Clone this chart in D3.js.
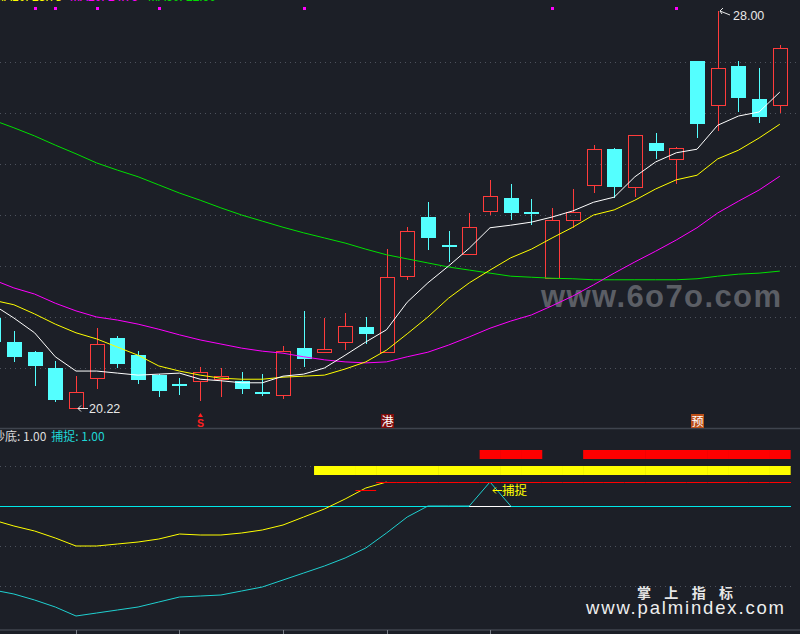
<!DOCTYPE html>
<html><head><meta charset="utf-8">
<script src="https://cdn.jsdelivr.net/npm/d3@7/dist/d3.min.js"></script>
<style>html,body{margin:0;padding:0;background:#1c1f27;}svg{display:block}</style>
</head><body><svg id="c" width="800" height="634"></svg>
<script>
// ---------- DATA ----------
const barIndex = [1,2,3,4,5,6,7,8,9,10,11,12,13,14,15,16,17,18,19,20,21,22,23,24,25,26,27,28,29,30,31,32,33,34,35,36,37,38,39];
const opens  = [21.98,21.51,21.31,21.00,20.22,20.80,21.59,21.25,20.86,20.69,20.75,20.78,20.75,20.53,20.47,21.39,21.31,21.51,21.80,21.31,22.80,23.96,23.41,23.24,24.08,24.33,24.06,22.76,23.90,24.59,25.29,24.55,25.41,25.10,27.02,26.16,26.92,26.27,26.16];
const highs  = [22.14,21.73,21.33,21.14,20.84,21.78,21.63,21.33,20.88,20.80,21.02,21.00,20.92,20.88,21.43,22.12,21.98,22.08,22.00,23.33,23.76,24.25,23.69,24.04,24.69,24.61,24.31,24.14,24.51,25.37,25.31,25.57,25.61,25.33,27.02,28.00,27.02,26.88,27.33];
const lows   = [21.35,21.12,20.65,20.33,20.22,20.59,21.00,20.69,20.43,20.47,20.35,20.43,20.49,20.45,20.39,21.02,21.31,21.35,21.47,21.31,22.73,23.31,23.08,23.24,24.00,23.90,23.80,22.76,23.75,24.43,24.33,24.35,25.10,24.61,25.51,25.65,26.02,25.80,26.00];
const closes = [21.51,21.22,21.04,20.37,20.53,21.47,21.08,20.76,20.55,20.65,20.92,20.84,20.59,20.51,21.33,21.18,21.37,21.82,21.67,22.78,23.69,23.55,23.37,23.76,24.37,24.04,24.02,23.90,24.06,25.29,24.55,25.57,25.25,25.31,25.78,26.88,26.29,25.92,27.27];

const ma5  = [22.24,21.98,21.69,21.22,20.94,20.94,20.90,20.86,20.88,20.90,20.78,20.75,20.71,20.71,20.84,20.88,21.00,21.25,21.51,21.75,22.29,22.67,23.00,23.35,23.75,23.80,23.86,23.96,24.08,24.25,24.35,24.75,25.04,25.22,25.29,25.76,25.94,26.02,26.41];
const ma10 = [22.33,22.24,22.06,21.86,21.69,21.57,21.41,21.25,21.04,20.94,20.86,20.80,20.78,20.78,20.82,20.84,20.86,20.98,21.12,21.35,21.67,22.00,22.37,22.67,22.92,23.16,23.33,23.55,23.76,24.00,24.10,24.29,24.51,24.69,24.78,25.10,25.27,25.51,25.78];
const ma20 = [22.73,22.57,22.45,22.27,22.12,22.00,21.94,21.86,21.76,21.65,21.55,21.47,21.39,21.33,21.29,21.22,21.16,21.12,21.10,21.12,21.22,21.31,21.45,21.61,21.78,21.92,22.04,22.22,22.41,22.63,22.86,23.08,23.29,23.51,23.75,24.04,24.27,24.49,24.76];
const ma60 = [25.86,25.71,25.55,25.37,25.20,25.02,24.88,24.75,24.59,24.43,24.29,24.14,24.00,23.88,23.76,23.65,23.55,23.45,23.33,23.22,23.14,23.06,22.98,22.92,22.86,22.80,22.78,22.76,22.75,22.73,22.73,22.73,22.73,22.73,22.75,22.80,22.84,22.86,22.90];
const priceGrid = [21,22,23,24,25,26,27];

// sub panel (抄底 / 捕捉)
const chaodi = [13,10,7.5,4,0,0,1,2,3.5,6,5.5,5.5,6.5,8,10.5,14.5,18.5,23.5,29,32];           // bars 1..20
const buzhuo = [-22,-24,-27,-30.5,-35,-33.5,-32,-30.5,-28,-25.5,-25,-24.5,-22.5,-20.5,-17,-13.5,-10,-6,-1,6.5,14.5,20,20,20,32,20]; // bars 1..26
const redStepBars = [19,20,21,22,23,24,25,26,27,28,29,30,31,32,33,34,35,36,37,38,39];
const redStepVals = [28,32,32,32,32,32,32,32,32,32,32,32,32,32,32,32,32,32,32,32,32];
const yellowStickBars = [17,18,19,20,21,22,23,24,25,26,27,28,29,30,31,32,33,34,35,36,37,38,39];
const redStickBars = [25,26,27,30,31,32,33,34,35,36,37,38,39];
const subLevel = 20;
const subGrid = [-20,0,20,40];
const markerBars = [3,4,6,9,16,28,34];
const tickBars = [5,10,15,20,25];
const signals = [{bar:11, label:"S"}, {bar:20, label:"港"}, {bar:35, label:"预"}];
const lowLabel = {bar:5, value:20.22, text:"20.22"};
const highLabel = {bar:36, value:28.00, text:"28.00"};
const legendTexts = ["MA10: 25.78","MA20: 24.76","MA60: 22.90"];

// ---------- SCALES ----------
const W = 800, H = 634;
const x = d3.scaleLinear().domain([1,39]).range([-6.8, 779.8]);
const y = d3.scaleLinear().domain([20,28]).range([419,11]);
const ys = d3.scaleLinear().domain([-20,40]).range([586,466]);
const half = (x(2)-x(1))/2;

const svg = d3.select("#c");
svg.append("rect").attr("width",W).attr("height",H).attr("fill","#1c1f27");

const NUM = "'Liberation Sans', Arial, sans-serif";
const CJK = "'Noto Sans CJK SC', sans-serif";

// watermark
svg.append("text").attr("x",541).attr("y",307).attr("textLength",240).attr("lengthAdjust","spacing")
  .attr("font-family",NUM).attr("font-weight","bold").attr("font-size",31).attr("fill","#5b5e65")
  .text("www.6o7o.com");

// grid
svg.append("g").selectAll("line").data(priceGrid).join("line")
  .attr("x1",0).attr("x2",W).attr("y1",d=>Math.round(y(d))+0.5).attr("y2",d=>Math.round(y(d))+0.5)
  .attr("stroke","#4d525d").attr("stroke-dasharray","1,4");
svg.append("g").selectAll("line").data(subGrid).join("line")
  .attr("x1",0).attr("x2",795).attr("y1",d=>Math.round(ys(d))+0.5).attr("y2",d=>Math.round(ys(d))+0.5)
  .attr("stroke","#4d525d").attr("stroke-dasharray","1,4");

// panel borders
svg.append("line").attr("x1",0).attr("x2",W).attr("y1",428.5).attr("y2",428.5).attr("stroke","#3f444e").attr("stroke-width",1.5);
svg.append("line").attr("x1",0).attr("x2",W).attr("y1",630).attr("y2",630).attr("stroke","#3f444e").attr("stroke-width",1.5);
svg.append("g").selectAll("line").data(tickBars).join("line")
  .attr("x1",d=>Math.round(x(d))+0.5).attr("x2",d=>Math.round(x(d))+0.5).attr("y1",630).attr("y2",634)
  .attr("stroke","#7a7f88");

// candles
const candles = svg.append("g");
barIndex.forEach((b,i)=>{
  const cx = Math.round(x(b));
  const o = opens[i], c = closes[i], h = highs[i], l = lows[i];
  const up = c >= o;
  const top = Math.round(y(Math.max(o,c))), bot = Math.round(y(Math.min(o,c)));
  const hy = Math.round(y(h)), ly = Math.round(y(l));
  if (up) {
    const col = "#ff3b3b";
    if (hy < top) candles.append("line").attr("x1",cx+0.5).attr("x2",cx+0.5).attr("y1",hy).attr("y2",top).attr("stroke",col);
    if (ly > bot) candles.append("line").attr("x1",cx+0.5).attr("x2",cx+0.5).attr("y1",bot).attr("y2",ly).attr("stroke",col);
    candles.append("rect").attr("x",cx-7+0.5).attr("y",top+0.5).attr("width",14).attr("height",Math.max(1,bot-top))
      .attr("fill","none").attr("stroke",col);
  } else {
    const col = "#54ffff";
    candles.append("line").attr("x1",cx+0.5).attr("x2",cx+0.5).attr("y1",hy).attr("y2",ly).attr("stroke",col);
    candles.append("rect").attr("x",cx-7).attr("y",top).attr("width",15).attr("height",Math.max(2,bot-top)).attr("fill",col);
  }
});

// moving averages
const mline = d3.line().x((d,i)=>x(barIndex[i])).y(d=>y(d));
[[ma60,"#00e000"],[ma20,"#ff00ff"],[ma10,"#ffff00"],[ma5,"#ffffff"]].forEach(([arr,col])=>{
  svg.append("path").attr("d",mline(arr)).attr("fill","none").attr("stroke",col).attr("stroke-width",1);
});

// markers at top
svg.append("g").selectAll("rect").data(markerBars).join("rect")
  .attr("x",d=>Math.round(x(d))-1).attr("y",7).attr("width",3).attr("height",3).attr("fill","#ff00ff");

// cut-off legend at top (only its bottom edge is inside the picture)
[[legendTexts[0],"#ffff00",-6],[legendTexts[1],"#ff00ff",70],[legendTexts[2],"#00e000",148]].forEach(([t,c,xx])=>{
  svg.append("text").attr("x",xx).attr("y",0.8).attr("font-family",NUM).attr("font-size",12).attr("fill",c).text(t);
});

// high / low labels
{
  const lx = Math.round(x(lowLabel.bar)), ly = Math.round(y(lowLabel.value));
  svg.append("path").attr("d",`M${lx+12},${ly+0.5}H${lx+2}M${lx+5},${ly-2.5}L${lx+2},${ly+0.5}L${lx+5},${ly+3.5}`)
    .attr("stroke","#e8e8e8").attr("fill","none");
  svg.append("text").attr("x",lx+13).attr("y",ly+5).attr("font-family",NUM).attr("font-size",12.5).attr("fill","#e8e8e8").text(lowLabel.text);
  const hx = Math.round(x(highLabel.bar)), hy = Math.round(y(highLabel.value));
  svg.append("path").attr("d",`M${hx+12},${hy+4}L${hx+2},${hy}M${hx+5},${hy-3}L${hx+2},${hy}L${hx+4},${hy+3}`)
    .attr("stroke","#e8e8e8").attr("fill","none");
  svg.append("text").attr("x",hx+15).attr("y",hy+9).attr("font-family",NUM).attr("font-size",12.5).attr("fill","#e8e8e8").text(highLabel.text);
}

// signals under main chart
signals.forEach(s=>{
  const cx = Math.round(x(s.bar))+0.5;
  if (s.label === "S") {
    svg.append("path").attr("d",`M${cx},413L${cx-2.5},417L${cx+2.5},417Z`).attr("fill","#ff2020");
    svg.append("text").attr("x",cx).attr("y",427).attr("text-anchor","middle").attr("font-family",NUM)
      .attr("font-weight","bold").attr("font-size",10.5).attr("fill","#ff2020").text("S");
  } else {
    svg.append("rect").attr("x",cx-6.5).attr("y",414).attr("width",13).attr("height",14)
      .attr("fill", s.label==="港" ? "#7e0d0d" : "#bb4f19");
    svg.append("text").attr("x",cx).attr("y",426).attr("text-anchor","middle").attr("font-family",CJK)
      .attr("font-size",12).attr("fill","#ffffff").text(s.label);
  }
});

// ---------- sub panel ----------
svg.append("g").selectAll("rect").data(redStickBars).join("rect")
  .attr("x",d=>x(d)-half).attr("width",half*2+0.5).attr("y",ys(48)).attr("height",ys(43.5)-ys(48)).attr("fill","#ff0000");
svg.append("g").selectAll("rect").data(yellowStickBars).join("rect")
  .attr("x",d=>x(d)-half).attr("width",half*2+0.5).attr("y",ys(40)).attr("height",ys(35.5)-ys(40)).attr("fill","#ffff00");

svg.append("line").attr("x1",0).attr("x2",791).attr("y1",Math.round(ys(subLevel))+0.5).attr("y2",Math.round(ys(subLevel))+0.5)
  .attr("stroke","#00e8e8");

const sline = d3.line().x((d,i)=>x(barIndex[i])).y(d=>ys(d));
svg.append("path").attr("d",sline(chaodi)).attr("fill","none").attr("stroke","#ffff00");
svg.append("path").attr("d",sline(buzhuo)).attr("fill","none").attr("stroke","#1fd0d0");
// triangle base
svg.append("line").attr("x1",x(24)).attr("x2",x(26)).attr("y1",Math.round(ys(subLevel))+0.5).attr("y2",Math.round(ys(subLevel))+0.5).attr("stroke","#ffffff");

// red step segments
redStepBars.forEach((b,i)=>{
  const x1 = x(b)-half, x2 = (i===redStepBars.length-1) ? 791 : x(b)+half;
  const yy = Math.round(ys(redStepVals[i]))+0.5;
  svg.append("line").attr("x1",x1).attr("x2",x2).attr("y1",yy).attr("y2",yy).attr("stroke","#ff0000");
});

// 捕捉 label
{
  const bx = Math.round(x(25)), by = Math.round(ys(32));
  svg.append("path").attr("d",`M${bx+12},${by+8.5}H${bx+3}M${bx+6},${by+5.5}L${bx+3},${by+8.5}L${bx+6},${by+11.5}`)
    .attr("stroke","#ffff00").attr("fill","none");
  svg.append("text").attr("x",bx+12).attr("y",by+13).attr("font-family",CJK).attr("font-size",12.5).attr("fill","#ffff00").text("捕捉");
}

// sub panel title
const t = svg.append("text").attr("x",-7).attr("y",441).attr("font-family",CJK).attr("font-size",12);
t.append("tspan").attr("fill","#dcdcdc").text("抄底: 1.00");
t.append("tspan").attr("fill","#1fd6d6").attr("dx",5).text("捕捉: 1.00");

// bottom watermark
svg.append("text").attr("x",637).attr("y",598).attr("textLength",96).attr("lengthAdjust","spacing")
  .attr("font-family",CJK).attr("font-weight","bold").attr("font-size",14).attr("fill","#e6e6e6").text("掌上指标");
svg.append("text").attr("x",586).attr("y",614).attr("textLength",198).attr("lengthAdjust","spacing")
  .attr("font-family",NUM).attr("font-size",18.5).attr("fill","#eeeeee").text("www.palmindex.com");
</script></body></html>
